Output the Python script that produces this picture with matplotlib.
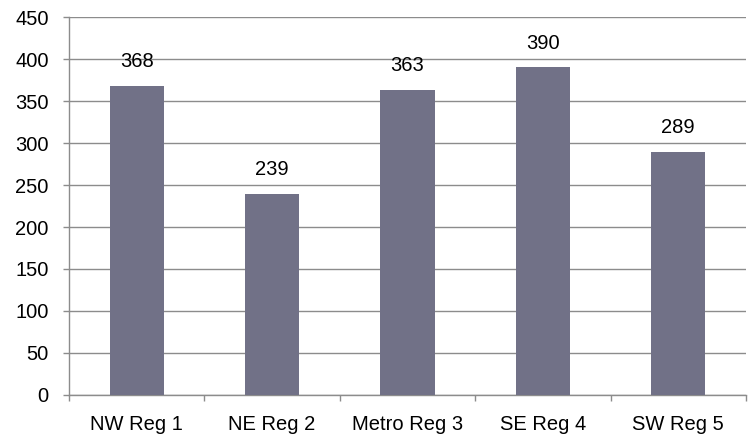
import matplotlib
matplotlib.use("Agg")
import matplotlib.pyplot as plt
import numpy as np

# chart data
regions = ["NW Reg 1", "NE Reg 2", "Metro Reg 3", "SE Reg 4", "SW Reg 5"]
counts = [368, 239, 363, 390, 289]
y_ticks = list(range(0, 451, 50))

bar_color = "#717187"
grid_color = "#8c8c8c"
fs = 14.5

plt.rcParams["font.family"] = ["Liberation Sans", "DejaVu Sans"]

fig = plt.figure(figsize=(7.51, 4.36), dpi=100)
ax = fig.add_axes([69 / 751, 1 - 395 / 436, 677 / 751, 378 / 436])

x = np.arange(len(regions))
ax.bar(x, counts, width=0.4, color=bar_color, zorder=3)

for xi, v in zip(x, counts):
    ax.annotate(str(v), (xi, v), xytext=(0, 13.5), textcoords="offset points",
                ha="center", va="baseline", fontsize=fs, color="black")

ax.set_xlim(-0.5, len(regions) - 0.5)
ax.set_ylim(0, 450)
ax.set_yticks(y_ticks)
ax.yaxis.grid(True, color=grid_color, linewidth=1, zorder=0)

# category labels sit between the boundary ticks
ax.set_xticks(x)
ax.set_xticklabels(regions, fontsize=fs)
ax.tick_params(axis="x", length=0, pad=14.5)
ax.set_xticks(np.arange(-0.5, len(regions)), minor=True)
ax.tick_params(axis="x", which="minor", length=4.5, color=grid_color, width=1)
ax.tick_params(axis="y", length=4.5, color=grid_color, width=1, labelsize=fs, pad=10)

for side in ["top", "right"]:
    ax.spines[side].set_visible(False)
for side in ["left", "bottom"]:
    ax.spines[side].set_color(grid_color)
    ax.spines[side].set_linewidth(1)

fig.savefig("out.png", dpi=100)
